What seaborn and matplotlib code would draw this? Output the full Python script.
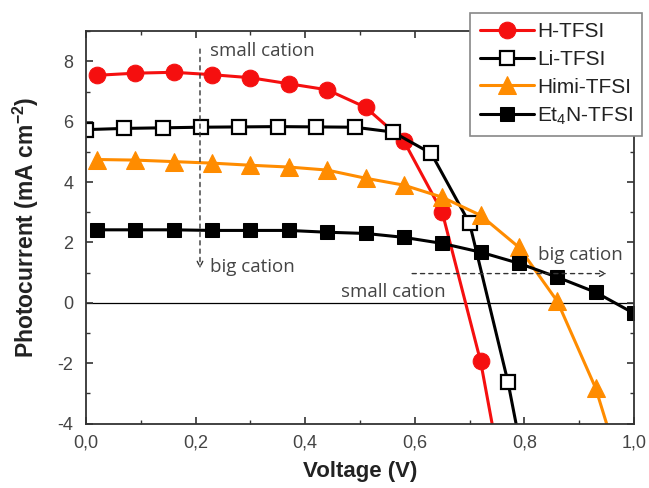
import matplotlib
matplotlib.use("Agg")
import matplotlib.pyplot as plt
import matplotlib.ticker as mticker
import numpy as np
import pandas as pd
import seaborn as sns

# ---- data ----
h_v = [0.02, 0.09, 0.16, 0.23, 0.30, 0.37, 0.44, 0.51, 0.58, 0.65, 0.72]
h_j = [7.54, 7.61, 7.64, 7.56, 7.46, 7.26, 7.06, 6.48, 5.36, 3.00, -1.94]
h_tail_v = [0.745]
h_tail_j = [-4.4]

li_v = [0.00, 0.07, 0.14, 0.21, 0.28, 0.35, 0.42, 0.49, 0.56, 0.63, 0.70, 0.77]
li_j = [5.74, 5.78, 5.80, 5.82, 5.83, 5.84, 5.83, 5.82, 5.66, 4.95, 2.63, -2.63]
li_tail_v = [0.79]
li_tail_j = [-4.5]

himi_v = [0.02, 0.09, 0.16, 0.23, 0.30, 0.37, 0.44, 0.51, 0.58, 0.65, 0.72, 0.79, 0.86, 0.93]
himi_j = [4.75, 4.73, 4.68, 4.63, 4.56, 4.50, 4.40, 4.13, 3.90, 3.50, 2.90, 1.84, 0.05, -2.83]
himi_tail_v = [0.96]
himi_tail_j = [-4.6]

et_v = [0.02, 0.09, 0.16, 0.23, 0.30, 0.37, 0.44, 0.51, 0.58, 0.65, 0.72, 0.79, 0.86, 0.93, 1.00]
et_j = [2.42, 2.42, 2.42, 2.40, 2.40, 2.40, 2.34, 2.30, 2.17, 1.97, 1.68, 1.31, 0.85, 0.35, -0.35]

labels = ["H-TFSI", "Li-TFSI", "Himi-TFSI", "Et$_4$N-TFSI"]
x_ticks = [0.0, 0.2, 0.4, 0.6, 0.8, 1.0]
x_ticklabels = ["0,0", "0,2", "0,4", "0,6", "0,8", "1,0"]
y_ticks = [-4, -2, 0, 2, 4, 6, 8]

sns.set_style("ticks")
plt.rcParams["font.family"] = ["Liberation Sans", "DejaVu Sans"]
plt.rcParams["mathtext.fontset"] = "custom"
plt.rcParams["mathtext.rm"] = "Liberation Sans"
plt.rcParams["mathtext.bf"] = "Liberation Sans:bold"

fig = plt.figure(figsize=(6.49, 4.88), dpi=100)
ax = fig.add_axes([0.1325, 0.132, 0.8445, 0.804])

series = [
    (h_v + h_tail_v, h_j + h_tail_j, len(h_v), dict(color="#f50f0f", marker="o", markersize=12,
                                                  markerfacecolor="#f50f0f", markeredgecolor="#f50f0f")),
    (li_v + li_tail_v, li_j + li_tail_j, len(li_v), dict(color="black", marker="s", markersize=10,
                                                       markerfacecolor="white", markeredgecolor="black",
                                                       markeredgewidth=1.6)),
    (himi_v + himi_tail_v, himi_j + himi_tail_j, len(himi_v), dict(color="#ff8c00", marker="^", markersize=13,
                                                                 markerfacecolor="#ff8c00", markeredgecolor="#ff8c00")),
    (et_v, et_j, len(et_v), dict(color="black", marker="s", markersize=10,
                                 markerfacecolor="black", markeredgecolor="black")),
]

for (xv, yv, nm, style), lab in zip(series, labels):
    df = pd.DataFrame({"V": xv, "J": yv})
    sns.lineplot(data=df, x="V", y="J", ax=ax, sort=False, estimator=None,
                 linewidth=2.2, markevery=list(range(nm)), label=lab, **style)

ax.axhline(0, color="black", linewidth=0.9, zorder=0)

ax.set_xlim(0, 1.0)
ax.set_ylim(-4, 9)
ax.set_xticks(x_ticks)
ax.set_xticklabels(x_ticklabels)
ax.set_yticks(y_ticks)
ax.set_yticklabels([str(t) if t >= 0 else "-" + str(-t) for t in y_ticks])
ax.xaxis.set_minor_locator(mticker.MultipleLocator(0.1))
ax.yaxis.set_minor_locator(mticker.MultipleLocator(1))
ax.tick_params(which="both", direction="in", top=True, right=True, colors="#333333",
               labelcolor="#444444", labelsize=13)
ax.tick_params(axis="x", which="major", pad=8)
ax.tick_params(axis="y", which="major", pad=9)
ax.tick_params(which="major", length=5, width=1.2)
ax.tick_params(which="minor", length=3, width=1.0)
for s in ax.spines.values():
    s.set_linewidth(1.3)
    s.set_color("#333333")

ax.set_xlabel("Voltage (V)", fontsize=16, fontweight="bold", color="#222222", labelpad=7)
ax.set_ylabel("Photocurrent (mA cm$^{\\mathbf{-2}}$)", fontsize=16.5, fontweight="bold",
              color="#222222", labelpad=12)

# annotations
ann_font = dict(family=["Open Sans", "DejaVu Sans"], fontsize=13.5, color="#444444")
ax.annotate("", xy=(0.208, 1.05), xytext=(0.208, 8.5),
            arrowprops=dict(arrowstyle="->", linestyle=(0, (3, 3)), color="#333333", lw=1.0))
ax.text(0.226, 8.35, "small cation", va="center", ha="left", **ann_font)
ax.text(0.226, 1.2, "big cation", va="center", ha="left", **ann_font)
ax.annotate("", xy=(0.955, 0.97), xytext=(0.59, 0.97),
            arrowprops=dict(arrowstyle="->", linestyle=(0, (3, 3)), color="#333333", lw=1.0))
ax.text(0.825, 1.57, "big cation", va="center", ha="left", **ann_font)
ax.text(0.466, 0.35, "small cation", va="center", ha="left", **ann_font)

leg = ax.legend(loc="upper right", bbox_to_anchor=(1.015, 1.047), fontsize=15, frameon=True,
                fancybox=False, edgecolor="#888888", framealpha=1, handlelength=2.6,
                handletextpad=0.15, borderpad=0.45, labelspacing=0.42, borderaxespad=0)
leg.get_frame().set_linewidth(1.2)
for t in leg.get_texts():
    t.set_color("#222222")

fig.savefig("out.png", dpi=100)
